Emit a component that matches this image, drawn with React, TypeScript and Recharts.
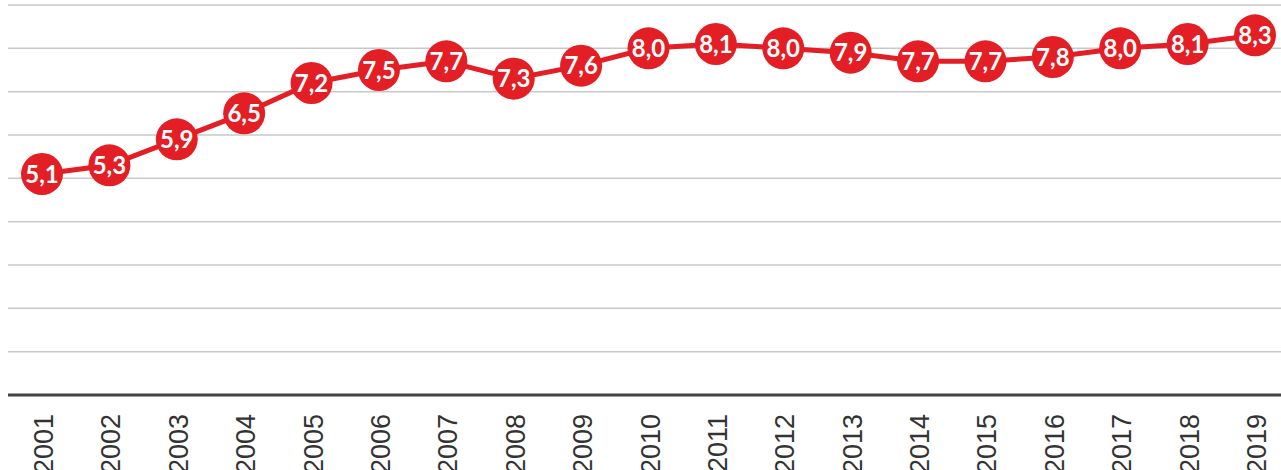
import { LineChart, Line, XAxis, YAxis, CartesianGrid } from 'recharts';

const years = ['2001', '2002', '2003', '2004', '2005', '2006', '2007', '2008', '2009', '2010',
  '2011', '2012', '2013', '2014', '2015', '2016', '2017', '2018', '2019'];
const values = [5.1, 5.3, 5.9, 6.5, 7.2, 7.5, 7.7, 7.3, 7.6, 8.0, 8.1, 8.0, 7.9, 7.7, 7.7, 7.8, 8.0, 8.1, 8.3];
const yTicks = [0, 1, 2, 3, 4, 5, 6, 7, 8, 9];

const data = years.map((year, i) => ({ year, value: values[i] }));

const RED = '#E31E24';

// rotated year labels, cut by the bottom edge like in the original
function YearTick(props: any) {
  const { x, payload } = props;
  return (
    <text
      x={0}
      y={0}
      transform={`translate(${x + 11},414) rotate(-90)`}
      textAnchor="end"
      fontSize={27}
      fontFamily="'Liberation Sans', Arial, sans-serif"
      fill="#333"
    >
      {payload.value}
    </text>
  );
}

function ValueDot(props: any) {
  const { cx, cy, payload, index } = props;
  return (
    <g key={`dot-${index}`}>
      <circle cx={cx} cy={cy} r={21} fill={RED} />
      <text
        x={cx}
        y={cy + 8.5}
        textAnchor="middle"
        fontSize={24}
        fontWeight="bold"
        fontFamily="Lato, 'Open Sans', sans-serif"
        fill="#fff"
      >
        {payload.value.toFixed(1).replace('.', ',')}
      </text>
    </g>
  );
}

export default function App() {
  return (
    <div style={{ position: 'absolute', left: 0, top: 0, background: '#fff' }}>
      <LineChart width={1281} height={470} data={data} margin={{ top: 5, right: 0, left: 8, bottom: 0 }}>
        <CartesianGrid vertical={false} stroke="#c8c8c8" strokeWidth={1.5} />
        <YAxis hide domain={[0, 9]} ticks={yTicks} />
        <XAxis
          dataKey="year"
          height={75}
          interval={0}
          padding={{ left: 34, right: 26 }}
          axisLine={{ stroke: '#444', strokeWidth: 3 }}
          tickLine={false}
          tick={<YearTick />}
        />
        <Line
          type="linear"
          dataKey="value"
          stroke={RED}
          strokeWidth={5}
          dot={(p: any) => <ValueDot {...p} />}
          activeDot={false}
          isAnimationActive={false}
        />
      </LineChart>
    </div>
  );
}
